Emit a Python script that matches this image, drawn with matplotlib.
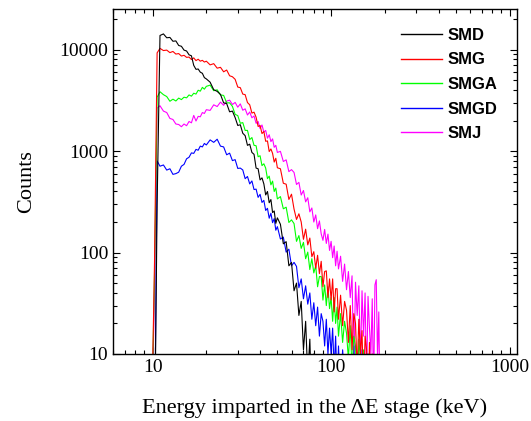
import matplotlib
matplotlib.use("Agg")
import matplotlib.pyplot as plt
from matplotlib.ticker import FixedLocator, FixedFormatter, LogLocator, NullFormatter

# bin centres (keV), shared by all spectra
energy = [9.8, 10.25, 10.6, 11.0, 11.5, 12.0, 12.5, 13.0, 13.5, 14.0, 14.5,
          15.0, 15.5, 16.0, 16.5, 17.0, 17.5, 18.0, 18.5, 19.0, 19.5, 20.0,
          21, 22, 23, 24, 25, 26, 27, 28, 29, 30, 31, 32, 33, 34, 35,
          36, 37, 38, 39, 40, 41, 42, 43, 44, 45, 46, 47, 48, 49, 50,
          52, 54, 56, 58, 60, 62, 64, 66, 68, 70, 72, 74, 76, 78, 80,
          82, 84, 86, 88, 90, 92, 94, 96, 98, 100, 102, 104, 106, 108, 110,
          113, 116, 119, 122, 125, 128, 131, 134, 137, 140, 143, 146, 149, 152, 155,
          158, 161, 164, 167, 170, 173, 176, 179, 182, 185, 188, 191, 194, 197, 200]

smd = [1, 1, 300, 13800, 14300, 13100, 13200, 12100, 12200, 11000, 10800,
       9900, 9700, 8900, 8700, 7000, 6400, 6450, 6000, 5850, 5300, 5150,
       4780, 4030, 3880, 3620, 2990, 2940, 2440, 2480, 2140, 1790, 1820, 1500, 1420, 1140, 1170,
       970, 930, 680, 670, 520, 545, 475, 370, 400, 310, 333, 248, 257, 194, 220,
       190, 122, 128, 74, 80, 42, 50, 24, 33, 11, 21, 6, 14, 3, 10,
       2, 7, 1]

smg = [1, 80, 9300, 10300, 9800, 9900, 9350, 9600, 9050, 9150, 8650,
       8800, 8400, 8450, 8000, 8300, 7800, 8050, 7700, 7850, 7550, 7700,
       7080, 7280, 6570, 6700, 6050, 6300, 5530, 5410, 5100, 4280, 4220, 3650, 3600, 3010, 2860,
       2370, 2420, 2160, 1750, 1790, 1490, 1560, 1250, 1260, 990, 1050, 950, 780, 850, 685,
       670, 482, 472, 334, 376, 268, 212, 241, 200, 135, 170, 119, 139, 91, 102,
       70, 94, 62, 82, 46, 65, 66, 36, 55, 34, 55, 26, 44, 44, 22,
       38, 19, 33, 27, 13, 30, 11, 25, 20, 7, 22, 10, 17, 4, 15,
       11, 3, 13, 2, 10, 5, 1, 8, 1]

smga = [1, 60, 3400, 3850, 3600, 3450, 3100, 3250, 3120, 3330, 3220,
        3400, 3350, 3580, 3480, 3720, 3650, 3980, 3900, 4250, 4080, 4350,
        4470, 3940, 4020, 3580, 3540, 2990, 2990, 2760, 2300, 2240, 1880, 1910, 1600, 1600, 1300,
        1360, 1140, 1130, 880, 900, 720, 750, 680, 535, 567, 465, 506, 400, 432, 338,
        356, 270, 280, 198, 210, 193, 129, 147, 110, 126, 87, 101, 68, 87, 63,
        74, 46, 58, 58, 34, 48, 30, 46, 28, 36, 21, 36, 20, 29, 15,
        25, 13, 21, 16, 9, 19, 7, 15, 12, 4, 14, 9, 3, 11, 6,
        2, 10, 1, 7, 1]

smgd = [1, 1, 800, 710, 730, 650, 670, 590, 600, 620, 710,
        740, 840, 870, 960, 950, 1040, 1020, 1120, 1100, 1190, 1150,
        1290, 1220, 1310, 1120, 1100, 920, 955, 806, 824, 675, 680, 652, 535, 562, 475,
        508, 418, 422, 350, 375, 312, 327, 260, 273, 218, 244, 197, 216, 166, 180,
        136, 142, 101, 108, 74, 80, 73, 45, 55, 35, 47, 31, 40, 22, 32,
        19, 29, 15, 25, 21, 12, 22, 10, 18, 10, 18, 7, 15, 5, 12,
        4, 11, 6, 2, 10, 3, 1, 12, 2, 1, 9, 1, 11, 1, 3,
        1, 10, 1]

smj = [1, 40, 2650, 2800, 2480, 2400, 2100, 2050, 1850, 1830, 1740,
       1850, 1780, 1960, 1900, 2250, 1980, 2200, 2180, 2400, 2350, 2560,
       2520, 2860, 2750, 3040, 2830, 3110, 3180, 2880, 3020, 2710, 2920, 2530, 2610, 2270, 2430,
       2130, 2220, 1880, 1960, 1670, 1810, 1540, 1600, 1340, 1450, 1240, 1320, 1090, 1140, 970,
       995, 790, 820, 628, 657, 616, 469, 492, 369, 409, 316, 347, 252, 275, 200,
       235, 172, 205, 153, 132, 169, 123, 152, 105, 129, 89, 116, 74, 103, 69,
       92, 52, 77, 43, 65, 36, 59, 6, 51, 24, 47, 8, 42, 15, 40,
       5, 37, 18, 10, 35, 4, 48, 54, 9, 26, 3, 8, 1, 4, 1]

labels = ["SMD", "SMG", "SMGA", "SMGD", "SMJ"]
colors = ["#000000", "#ff0000", "#00ff00", "#0000ff", "#ff00ff"]
spectra = [smd, smg, smga, smgd, smj]

plt.rcParams['font.family'] = ['Liberation Serif', 'DejaVu Serif']

fig = plt.figure(figsize=(5.31, 4.21), dpi=100)
ax = fig.add_axes([113 / 531, 67 / 421, 404 / 531, 344.7 / 421])

# draw SMJ first so SMD ends up on top
handles = {}
for lab, col, vals in reversed(list(zip(labels, colors, spectra))):
    line, = ax.plot(energy[:len(vals)], vals, color=col, linewidth=0.8, label=lab)
    handles[lab] = line

ax.set_xscale('log')
ax.set_yscale('log')
ax.set_xlim(6, 1100)
ax.set_ylim(10, 25000)

ax.xaxis.set_major_locator(FixedLocator([10, 100, 1000]))
ax.xaxis.set_major_formatter(FixedFormatter(['10', '100', '1000']))
ax.yaxis.set_major_locator(FixedLocator([10, 100, 1000, 10000]))
ax.yaxis.set_major_formatter(FixedFormatter(['10', '100', '1000', '10000']))
for axis in (ax.xaxis, ax.yaxis):
    axis.set_minor_locator(LogLocator(base=10, subs=range(2, 10), numticks=20))
    axis.set_minor_formatter(NullFormatter())

ax.tick_params(which='both', direction='in', top=True, right=True, width=0.8, labelsize=14)
ax.tick_params(which='major', length=5)
ax.tick_params(which='minor', length=3)
for sp in ax.spines.values():
    sp.set_linewidth(1.0)

ax.set_xlabel('Energy imparted in the \u0394E stage (keV)', fontsize=16, labelpad=16)
ax.set_ylabel('Counts', fontsize=16, labelpad=17)

leg = ax.legend([handles[l] for l in labels], labels, loc='upper left',
                bbox_to_anchor=(401 / 531, (421 - 28) / 421), bbox_transform=fig.transFigure,
                frameon=False, borderpad=0, borderaxespad=0, handlelength=2.46,
                handletextpad=0.36, labelspacing=0.57,
                prop={'family': 'Liberation Sans', 'weight': 'bold', 'size': 12})
for lh in leg.get_lines():
    lh.set_linewidth(1.0)

fig.savefig('out.png', dpi=100)
